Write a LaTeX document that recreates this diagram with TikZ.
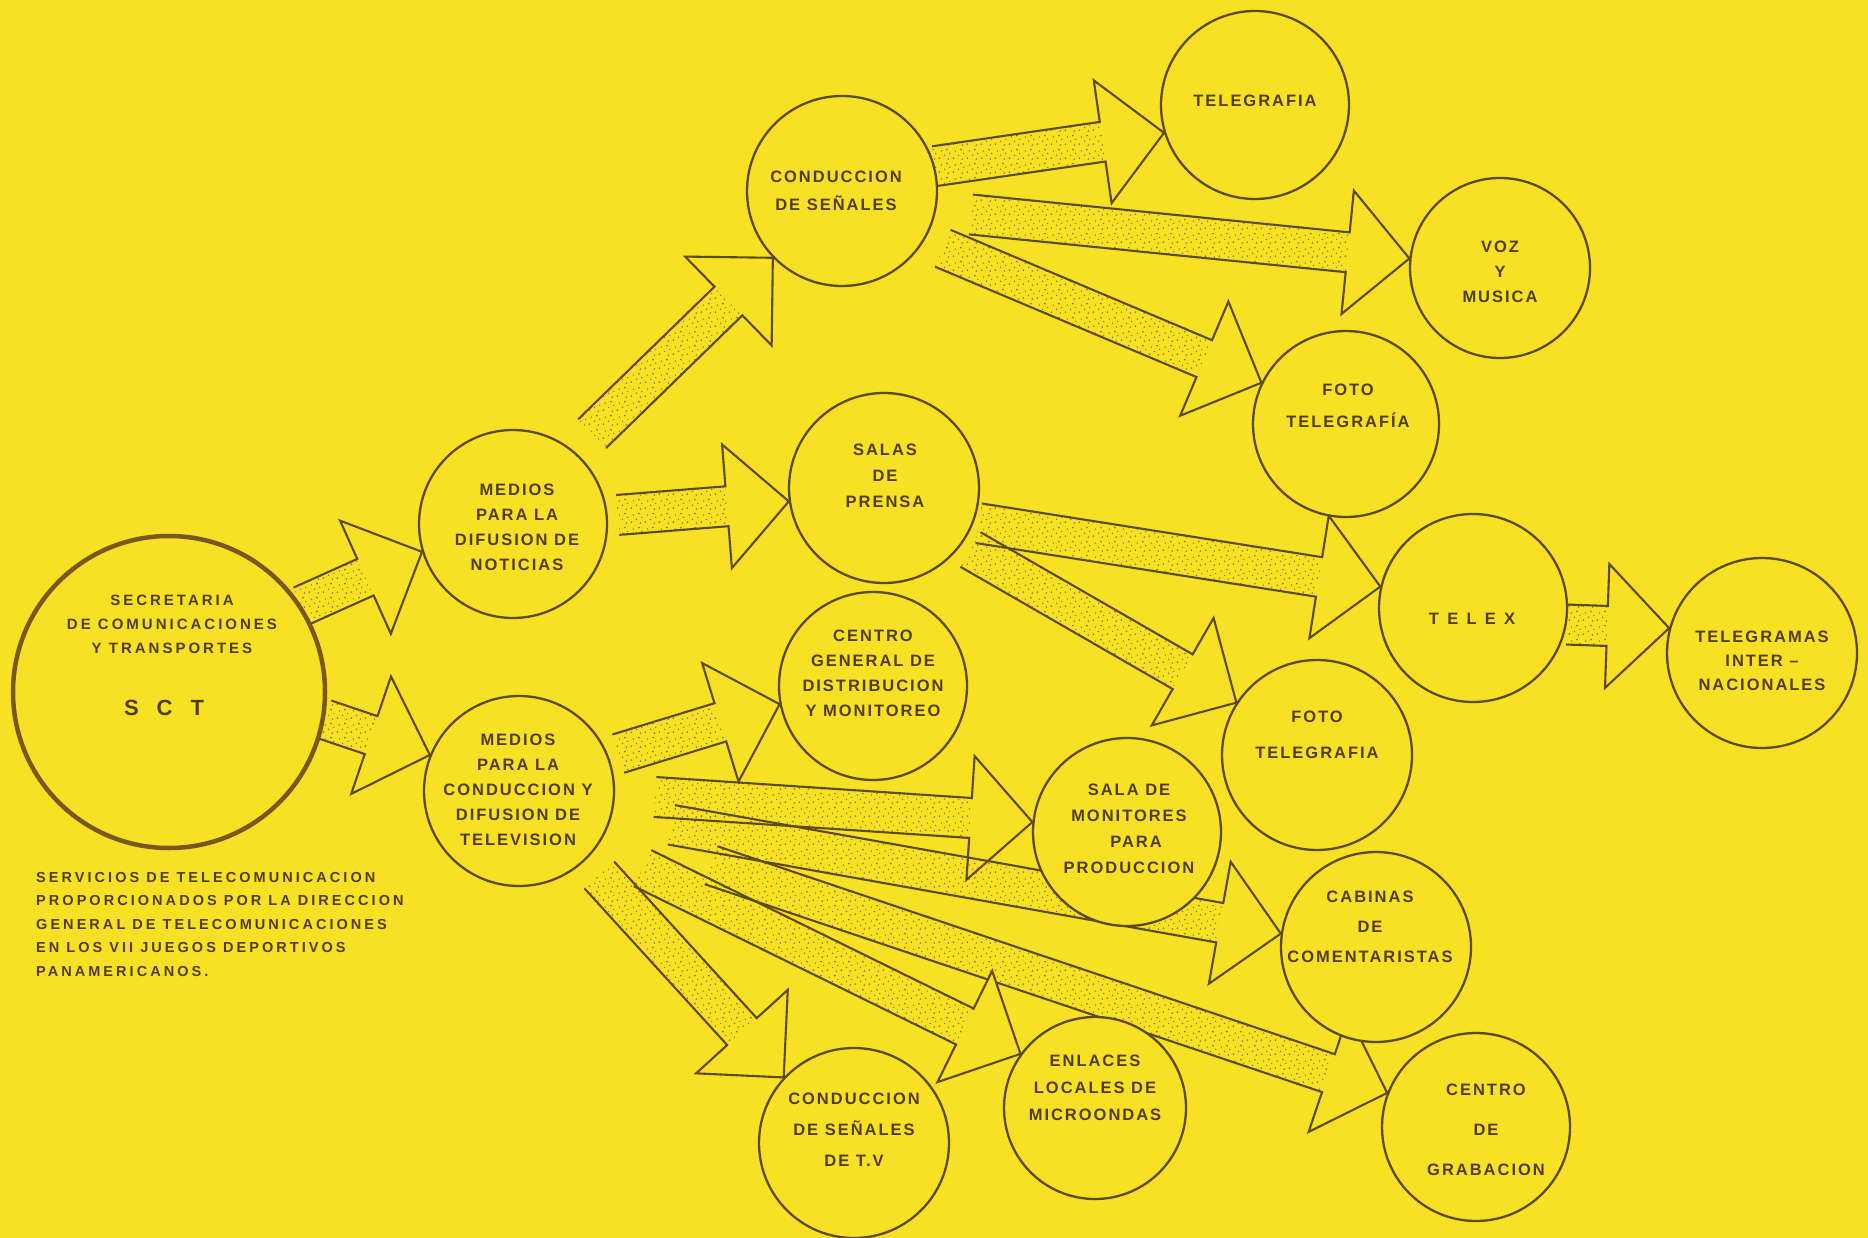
\documentclass[tikz,border=0pt]{standalone}
\usepackage{fontspec}
\setmainfont{Liberation Sans}
\newfontfamily\labfont[LetterSpace=12]{Liberation Sans}
\newfontfamily\capfont[LetterSpace=21]{Liberation Sans}
\newfontfamily\sctfont[LetterSpace=20]{Liberation Sans}
\newfontfamily\telexfont[LetterSpace=50]{Liberation Sans}
\usetikzlibrary{calc,patterns}
\definecolor{bgy}{RGB}{248,224,36}
\definecolor{linec}{RGB}{92,75,20}
\definecolor{txtc}{RGB}{80,62,18}
\definecolor{stip}{RGB}{140,118,38}
\definecolor{sctc}{RGB}{120,88,28}
\pgfdeclarelayer{paper}
\pgfdeclarelayer{arrows}
\pgfsetlayers{paper,arrows,main}
\pgfdeclarepatternformonly{speckle}{\pgfqpoint{0pt}{0pt}}{\pgfqpoint{14pt}{14pt}}{\pgfqpoint{14pt}{14pt}}{%
 \pgfpathcircle{\pgfqpoint{1.5pt}{2pt}}{1pt}%
 \pgfpathcircle{\pgfqpoint{7pt}{5pt}}{0.8pt}%
 \pgfpathcircle{\pgfqpoint{11pt}{1pt}}{0.9pt}%
 \pgfpathcircle{\pgfqpoint{3.5pt}{9.5pt}}{0.8pt}%
 \pgfpathcircle{\pgfqpoint{9.5pt}{11pt}}{1pt}%
 \pgfpathcircle{\pgfqpoint{12.5pt}{7pt}}{0.7pt}%
 \pgfusepath{fill}}
\tikzset{
  bubble/.style={circle,inner sep=0pt,draw=linec,line width=2.3pt,fill=bgy},
  lab/.style={inner sep=0pt,align=center,text=txtc,font=\labfont\bfseries\fontsize{16.5}{25}\selectfont},
  arrline/.style={draw=linec,line width=2.1pt,line join=miter},
}
% \barrow[gap]{(start anchor)}{(tip anchor)}
\newcommand\barrow[3][0pt]{%
  \coordinate (bA) at #2;
  \coordinate (bT) at #3;
  \coordinate (bS) at ($(bA)!#1!(bT)$);
  \coordinate (bH) at ($(bT)!62pt!(bS)$);
  \fill[pattern=speckle,pattern color=stip] ($(bS)!20pt!90:(bT)$) -- ($(bH)!20pt!90:(bT)$) -- ($(bH)!20pt!-90:(bT)$) -- ($(bS)!20pt!-90:(bT)$) -- cycle;
  \fill[bgy] ($(bH)!62pt!90:(bT)$) -- (bT) -- ($(bH)!62pt!-90:(bT)$) -- cycle;
  \draw[arrline] ($(bS)!20pt!90:(bT)$) -- ($(bH)!20pt!90:(bT)$) -- ($(bH)!62pt!90:(bT)$) -- (bT) -- ($(bH)!62pt!-90:(bT)$) -- ($(bH)!20pt!-90:(bT)$) -- ($(bS)!20pt!-90:(bT)$);
}
\begin{document}
\begin{tikzpicture}[x=1pt,y=-1pt]
\begin{pgfonlayer}{paper}
\fill[bgy] (0,0) rectangle (1868,1238);
\end{pgfonlayer}
\useasboundingbox (0,0) rectangle (1868,1238);

% circles
\node[bubble,minimum size=312pt,draw=sctc,line width=4.5pt] (sct) at (169,692) {};
\node[bubble,minimum size=188pt] (mdif) at (513,524) {};
\node[bubble,minimum size=190pt] (mtv) at (519,791) {};
\node[bubble,minimum size=190pt] (cs) at (842,191) {};
\node[bubble,minimum size=188pt] (tel) at (1255,105) {};
\node[bubble,minimum size=180pt] (voz) at (1500,268) {};
\node[bubble,minimum size=186pt] (foto1) at (1346,424) {};
\node[bubble,minimum size=190pt] (salas) at (884,488) {};
\node[bubble,minimum size=188pt] (telex) at (1473,608) {};
\node[bubble,minimum size=190pt] (tgm) at (1762,653) {};
\node[bubble,minimum size=188pt] (cg) at (873,686) {};
\node[bubble,minimum size=190pt] (foto2) at (1317,755) {};
\node[bubble,minimum size=188pt] (smon) at (1127,832) {};
\node[bubble,minimum size=190pt] (cab) at (1376,947) {};
\node[bubble,minimum size=190pt] (ctv) at (854,1143) {};
\node[bubble,minimum size=182pt] (enl) at (1095,1108) {};
\node[bubble,minimum size=188pt] (grab) at (1476,1127) {};

% labels
\node[lab,font=\sctfont\bfseries\fontsize{15}{24}\selectfont] (sct-t) at (172,624) {SECRETARIA\\DE COMUNICACIONES\\Y TRANSPORTES};
\node[lab,font=\sctfont\bfseries\fontsize{22}{24}\selectfont] (sct-a) at (164,708) {S\hspace{18pt}C\hspace{18pt}T};
\node[lab] (mdif-t) at (517,527) {MEDIOS\\PARA LA\\DIFUSION DE\\NOTICIAS};
\node[lab] (mtv-t) at (518,790) {MEDIOS\\PARA LA\\CONDUCCION Y\\DIFUSION DE\\TELEVISION};
\node[lab,font=\labfont\bfseries\fontsize{16.5}{28}\selectfont] (cs-t) at (836,191) {CONDUCCION\\DE SEÑALES};
\node[lab] (tel-t) at (1255,101) {TELEGRAFIA};
\node[lab] (voz-t) at (1500,272) {VOZ\\Y\\MUSICA};
\node[lab,font=\labfont\bfseries\fontsize{16.5}{32}\selectfont] (foto1-t) at (1348,406) {FOTO\\TELEGRAFÍA};
\node[lab,font=\labfont\bfseries\fontsize{16.5}{26}\selectfont] (salas-t) at (885,476) {SALAS\\DE\\PRENSA};
\node[lab,font=\telexfont\bfseries\fontsize{16.5}{25}\selectfont] (telex-t) at (1472,619) {TELEX};
\node[lab,font=\labfont\bfseries\fontsize{16.5}{24}\selectfont] (tgm-t) at (1762,661) {TELEGRAMAS\\INTER –\\NACIONALES};
\node[lab] (cg-t) at (873,673) {CENTRO\\GENERAL DE\\DISTRIBUCION\\Y MONITOREO};
\node[lab,font=\labfont\bfseries\fontsize{16.5}{36}\selectfont] (foto2-t) at (1317,735) {FOTO\\TELEGRAFIA};
\node[lab,font=\labfont\bfseries\fontsize{16.5}{26}\selectfont] (smon-t) at (1129,829) {SALA DE\\MONITORES\\\hspace*{14pt}PARA\\PRODUCCION};
\node[lab,font=\labfont\bfseries\fontsize{16.5}{30}\selectfont] (cab-t) at (1370,927) {CABINAS\\DE\\COMENTARISTAS};
\node[lab,font=\labfont\bfseries\fontsize{16.5}{40}\selectfont] (grab-t) at (1486,1130) {CENTRO\\DE\\GRABACION};
\node[lab,font=\labfont\bfseries\fontsize{16.5}{27}\selectfont] (enl-t) at (1095,1088) {ENLACES\\LOCALES DE\\MICROONDAS};
\node[lab,font=\labfont\bfseries\fontsize{16.5}{31}\selectfont] (ctv-t) at (854,1130) {CONDUCCION\\DE SEÑALES\\DE T.V};
\node[inner sep=0pt,align=left,text=txtc,anchor=north west,font=\capfont\bfseries\fontsize{14.5}{23.5}\selectfont] (cap) at (36,872)
  {SERVICIOS DE TELECOMUNICACION\\PROPORCIONADOS POR LA DIRECCION\\GENERAL DE TELECOMUNICACIONES\\EN LOS VII JUEGOS DEPORTIVOS\\PANAMERICANOS.};

% block arrows (behind the circles)
\begin{pgfonlayer}{arrows}
\barrow{(sct.33)}{(mdif.197)}
\barrow{(sct.-10)}{(mtv.158)}
\barrow[25pt]{(mdif.50)}{(cs.224)}
\barrow[10pt]{(mdif.5)}{(salas.188)}
\barrow[10pt]{(mtv.21)}{(cg.191)}
\barrow[40pt]{(mtv.-2)}{(smon.174)}
\barrow[60pt]{(mtv.-14)}{(cab.172)}
\barrow[110pt]{(mtv.-24)}{(grab.159)}
\barrow[50pt]{(mtv.-35)}{(enl.144)}
\barrow[20pt]{(mtv.-46)}{(ctv.137)}
\barrow{(cs.15)}{(tel.197)}
\barrow[35pt]{(cs.-12)}{(voz.174)}
\barrow[20pt]{(cs.-31)}{(foto1.154)}
\barrow[5pt]{(salas.-21)}{(telex.167)}
\barrow[10pt]{(salas.-36)}{(foto2.147)}
\barrow{(telex.-10)}{(tgm.165)}
\end{pgfonlayer}
\end{tikzpicture}
\end{document}
